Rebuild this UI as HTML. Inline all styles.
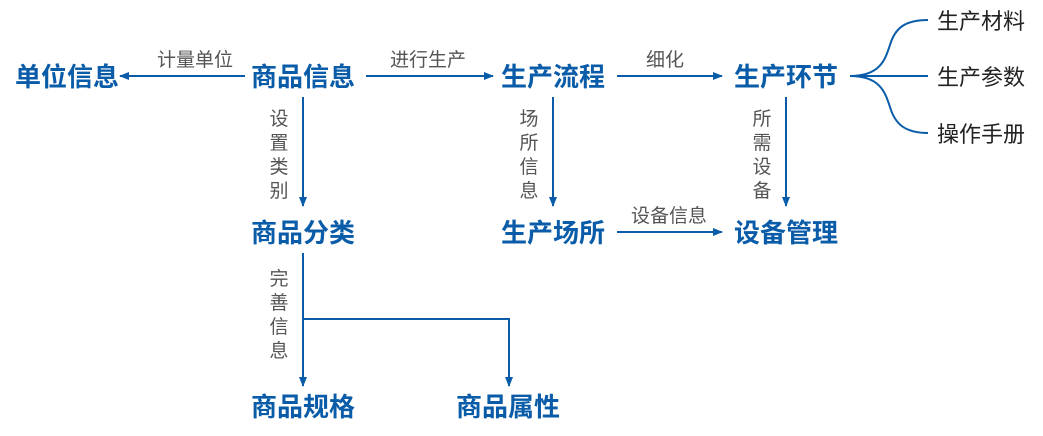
<!DOCTYPE html>
<html><head><meta charset="utf-8"><style>
html,body{margin:0;padding:0;background:#fff;}
svg{display:block;}
.n{font-family:"Liberation Sans","Noto Sans CJK SC",sans-serif;font-weight:bold;font-size:26px;fill:#0a5ca8;}
.l{font-family:"Liberation Sans","Noto Sans CJK SC",sans-serif;font-size:19px;fill:#555;}
.r{font-family:"Liberation Sans","Noto Sans CJK SC",sans-serif;font-size:22px;fill:#222;}
.ln{stroke:#0a5ca8;stroke-width:2;fill:none;}
</style></head><body>
<svg width="1043" height="436" viewBox="0 0 1043 436">
<defs><marker id="a" markerWidth="10" markerHeight="10" refX="9" refY="5" orient="auto" markerUnits="userSpaceOnUse"><path d="M0,1 L10,5 L0,9 Z" fill="#0a5ca8"/></marker></defs>
<g text-anchor="middle">
<text class="n" x="67" y="86">单位信息</text>
<text class="n" x="303" y="86">商品信息</text>
<text class="n" x="553" y="86">生产流程</text>
<text class="n" x="786" y="86">生产环节</text>
<text class="n" x="303" y="242">商品分类</text>
<text class="n" x="553" y="242">生产场所</text>
<text class="n" x="786" y="242">设备管理</text>
<text class="n" x="303" y="416">商品规格</text>
<text class="n" x="508" y="416">商品属性</text>
<text class="l" x="195" y="66">计量单位</text>
<text class="l" x="428" y="66">进行生产</text>
<text class="l" x="665" y="66">细化</text>
<text class="l" x="669" y="222">设备信息</text>
<text class="l" x="279" y="125">设</text><text class="l" x="279" y="149">置</text><text class="l" x="279" y="173">类</text><text class="l" x="279" y="197">别</text>
<text class="l" x="529" y="125">场</text><text class="l" x="529" y="149">所</text><text class="l" x="529" y="173">信</text><text class="l" x="529" y="197">息</text>
<text class="l" x="762" y="125">所</text><text class="l" x="762" y="149">需</text><text class="l" x="762" y="173">设</text><text class="l" x="762" y="197">备</text>
<text class="l" x="279" y="285">完</text><text class="l" x="279" y="309">善</text><text class="l" x="279" y="333">信</text><text class="l" x="279" y="357">息</text>
</g>
<line class="ln" x1="245" y1="76" x2="120" y2="76" marker-end="url(#a)"/>
<line class="ln" x1="366" y1="76" x2="493" y2="76" marker-end="url(#a)"/>
<line class="ln" x1="617" y1="76" x2="722" y2="76" marker-end="url(#a)"/>
<line class="ln" x1="617" y1="232" x2="722" y2="232" marker-end="url(#a)"/>
<line class="ln" x1="303" y1="97" x2="303" y2="206" marker-end="url(#a)"/>
<line class="ln" x1="553" y1="97" x2="553" y2="206" marker-end="url(#a)"/>
<line class="ln" x1="786" y1="97" x2="786" y2="206" marker-end="url(#a)"/>
<line class="ln" x1="303" y1="253" x2="303" y2="386" marker-end="url(#a)"/>
<polyline class="ln" points="303,319 509,319 509,386" marker-end="url(#a)"/>
<path class="ln" d="M850,76 C880,76 885,60 890,45 C895,28 905,20 928,20"/>
<path class="ln" d="M850,76 L928,76"/>
<path class="ln" d="M850,76 C880,76 885,92 890,107 C895,124 905,133 928,133"/>
<text class="r" x="937" y="29">生产材料</text>
<text class="r" x="937" y="85">生产参数</text>
<text class="r" x="937" y="142">操作手册</text>
</svg>
</body></html>
